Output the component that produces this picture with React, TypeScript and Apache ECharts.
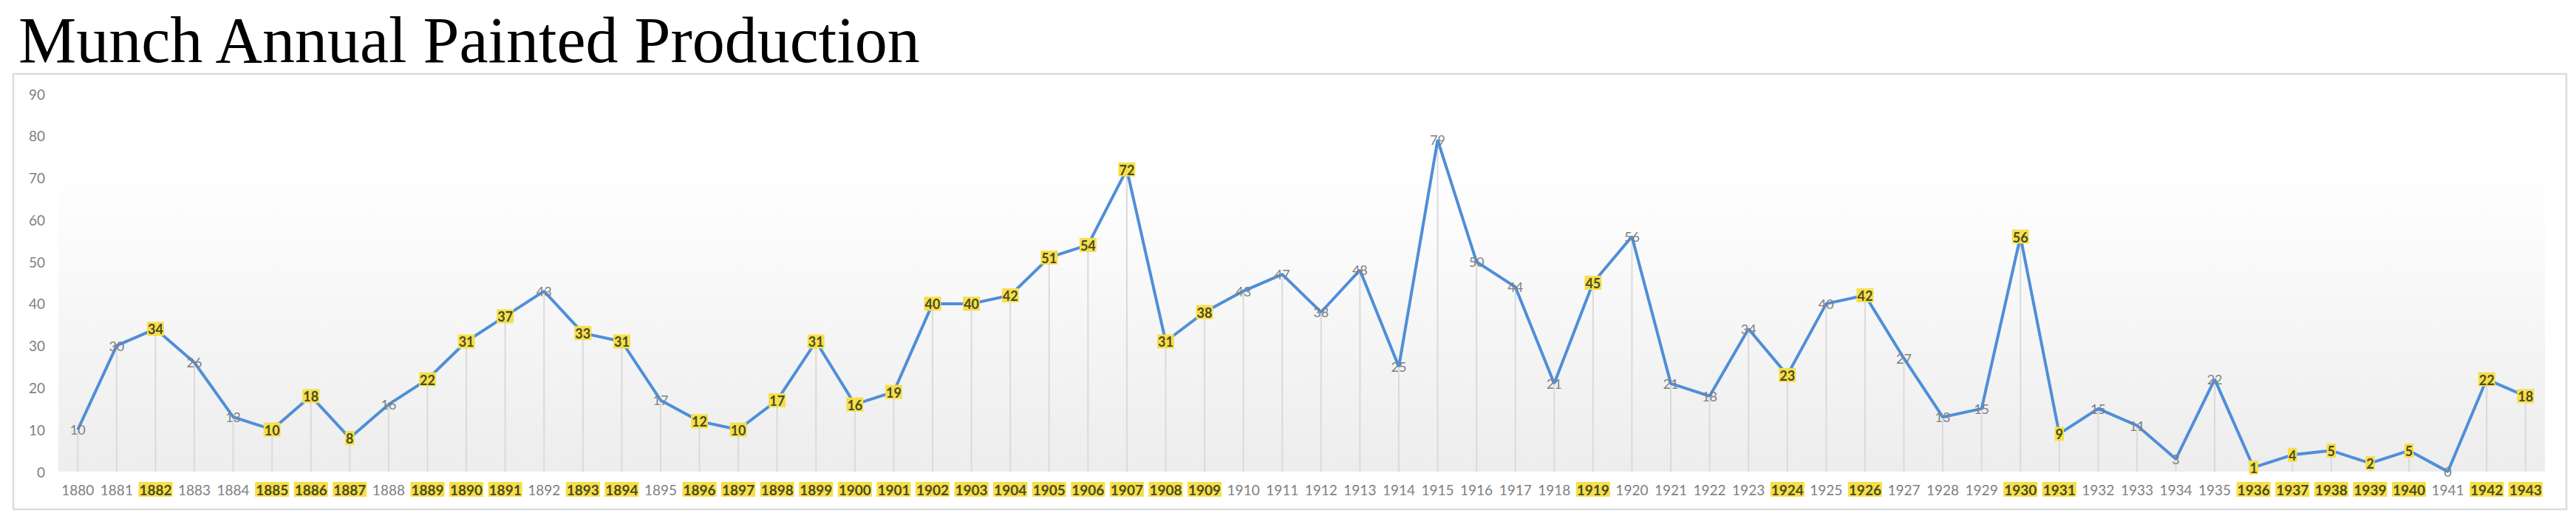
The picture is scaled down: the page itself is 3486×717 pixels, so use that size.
import React, { useEffect, useRef } from "react";
import * as echarts from "echarts";

const years: string[] = [
  "1880","1881","1882","1883","1884","1885","1886","1887","1888","1889",
  "1890","1891","1892","1893","1894","1895","1896","1897","1898","1899",
  "1900","1901","1902","1903","1904","1905","1906","1907","1908","1909",
  "1910","1911","1912","1913","1914","1915","1916","1917","1918","1919",
  "1920","1921","1922","1923","1924","1925","1926","1927","1928","1929",
  "1930","1931","1932","1933","1934","1935","1936","1937","1938","1939",
  "1940","1941","1942","1943",
];

const paintings: number[] = [
  10, 30, 34, 26, 13, 10, 18, 8, 16, 22,
  31, 37, 43, 33, 31, 17, 12, 10, 17, 31,
  16, 19, 40, 40, 42, 51, 54, 72, 31, 38,
  43, 47, 38, 48, 25, 79, 50, 44, 21, 45,
  56, 21, 18, 34, 23, 40, 42, 27, 13, 15,
  56, 9, 15, 11, 3, 22, 1, 4, 5, 2,
  5, 0, 22, 18,
];

const highlightedYears: string[] = [
  "1882","1885","1886","1887","1889","1890","1891","1893","1894",
  "1896","1897","1898","1899","1900","1901","1902","1903","1904",
  "1905","1906","1907","1908","1909","1919","1924","1926","1930",
  "1931","1936","1937","1938","1939","1940","1942","1943",
];

const yTicks = { min: 0, max: 90, interval: 10 };
const titleText = "Munch Annual Painted Production";

const HL_BG = "#f6df4a";
const HL_TEXT = "#4a4a22";
const GRAY_TEXT = "#7f7f7f";
const FONT = "Lato";

export default function App() {
  const ref = useRef<HTMLDivElement>(null);

  useEffect(() => {
    document.body.style.margin = "0";
    if (!ref.current) return;
    const chart = echarts.init(ref.current, undefined, { renderer: "svg" });
    const isHl = (y: string) => highlightedYears.includes(y);

    chart.setOption({
      animation: false,
      backgroundColor: "#ffffff",
      graphic: [
        {
          type: "text",
          left: 25,
          top: 10,
          style: {
            text: titleText,
            fontFamily: "Liberation Serif",
            fontSize: 88,
            fill: "#000000",
          },
        },
        {
          type: "rect",
          shape: { x: 18, y: 100, width: 3455, height: 589 },
          style: { fill: "none", stroke: "#dcdcdc", lineWidth: 2.5 },
          silent: true,
          z: -1,
        },
      ],
      grid: {
        left: 79,
        right: 42,
        top: 127,
        bottom: 79,
        show: true,
        borderWidth: 0,
        backgroundColor: new echarts.graphic.LinearGradient(0, 0, 0, 1, [
          { offset: 0, color: "#ffffff" },
          { offset: 0.2, color: "#ffffff" },
          { offset: 1, color: "#ededed" },
        ]),
      },
      xAxis: {
        type: "category",
        data: years,
        boundaryGap: true,
        axisLine: { show: false },
        axisTick: { show: false },
        splitLine: { show: false },
        axisLabel: {
          interval: 0,
          margin: 14,
          fontFamily: FONT,
          fontSize: 19,
          color: GRAY_TEXT,
          formatter: (v: string) => (isHl(v) ? `{hl|${v}}` : `{n|${v}}`),
          rich: {
            hl: {
              backgroundColor: HL_BG,
              color: HL_TEXT,
              fontFamily: FONT,
              fontSize: 19,
              fontWeight: "bold",
              padding: [1, 1, 0, 1],
            },
            n: {
              color: GRAY_TEXT,
              fontFamily: FONT,
              fontSize: 19,
              padding: [1, 1, 0, 1],
            },
          },
        },
      },
      yAxis: {
        type: "value",
        min: yTicks.min,
        max: yTicks.max,
        interval: yTicks.interval,
        axisLine: { show: false },
        axisTick: { show: false },
        splitLine: { show: false },
        axisLabel: {
          margin: 18,
          fontFamily: FONT,
          fontSize: 19,
          color: GRAY_TEXT,
        },
      },
      series: [
        {
          type: "bar",
          data: paintings,
          barWidth: 2,
          silent: true,
          itemStyle: { color: "#dadada" },
          z: 1,
        },
        {
          type: "line",
          data: paintings,
          symbol: "circle",
          symbolSize: 1,
          showSymbol: true,
          showAllSymbol: true,
          itemStyle: { color: "rgba(79,142,216,0)", borderWidth: 0 },
          lineStyle: { color: "#4f8ed8", width: 4 },
          z: 3,
          label: {
            show: true,
            position: "inside",
            fontFamily: FONT,
            fontSize: 18,
            formatter: (p: any) =>
              isHl(years[p.dataIndex]) ? `{hl|${p.value}}` : `{n|${p.value}}`,
            rich: {
              hl: {
                backgroundColor: HL_BG,
                color: HL_TEXT,
                fontFamily: FONT,
                fontSize: 18,
                fontWeight: "bold",
                padding: [1, 1, 0, 1],
              },
              n: {
                color: GRAY_TEXT,
                fontFamily: FONT,
                fontSize: 18,
              },
            },
          },
        },
      ],
    });

    return () => chart.dispose();
  }, []);

  return <div ref={ref} style={{ width: 3486, height: 717 }} />;
}
